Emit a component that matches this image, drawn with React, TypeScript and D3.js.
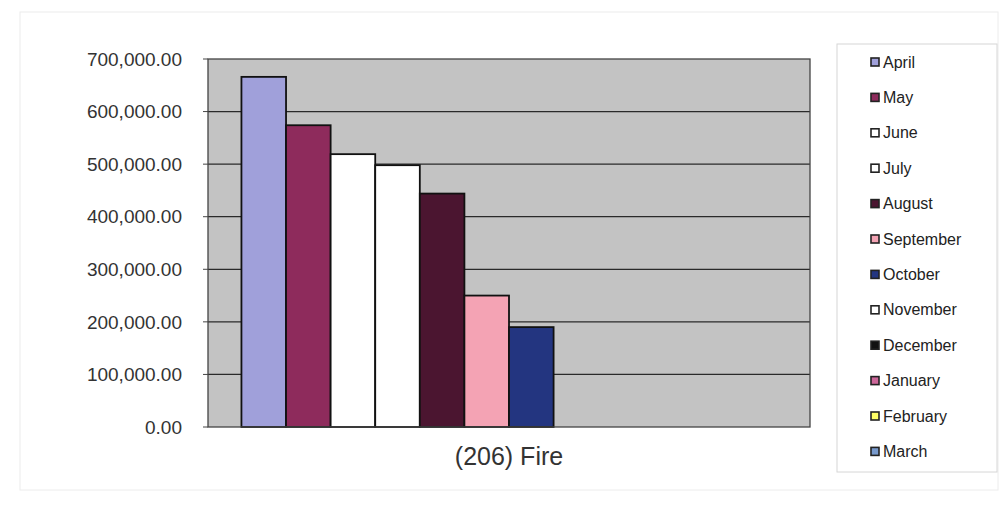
import React from "react";
import * as d3 from "d3";

const category = "(206) Fire";
const months = ["April", "May", "June", "July", "August", "September", "October", "November", "December", "January", "February", "March"];
const values = [666000, 574000, 519000, 498000, 444000, 250000, 190000, 0, 0, 0, 0, 0];
const colors = ["#A0A0DA", "#8E2B5C", "#FFFFFF", "#FFFFFF", "#4B1530", "#F4A3B4", "#233580", "#FFFFFF", "#111111", "#CC6699", "#FFFF66", "#7799CC"];
const yTicks = [0, 100000, 200000, 300000, 400000, 500000, 600000, 700000];

export default function App() {
  const W = 1002, H = 506;
  const left = 208, right = 810, top = 59, bottom = 427;
  const y = d3.scaleLinear().domain([0, 700000]).range([bottom, top]);
  const x = d3.scaleBand<string>().domain(months).range([left, right]).paddingInner(0).paddingOuter(0.75);
  const fmt = d3.format(",.2f");
  const legendTop = 62, legendStep = 35.4;
  return (
    <svg width={W} height={H} style={{ position: "absolute", left: 0, top: 0, background: "#fff" }} fontFamily="'Liberation Sans', Arial, sans-serif">
      <rect x={20} y={12} width={978} height={478} fill="#fff" stroke="#ececec" strokeWidth={1} />
      <rect x={left} y={top} width={right - left} height={bottom - top} fill="#c3c3c3" />
      {yTicks.filter(t => t > 0 && t < 700000).map(t => (
        <line key={t} x1={left} x2={right} y1={y(t)} y2={y(t)} stroke="#2a2a2a" strokeWidth={1.3} />
      ))}
      {months.map((m, i) => values[i] > 0 ? (
        <rect key={m} x={x(m)} y={y(values[i])} width={x.bandwidth()} height={bottom - y(values[i])}
          fill={colors[i]} stroke="#111" strokeWidth={1.8} />
      ) : null)}
      <rect x={left} y={top} width={right - left} height={bottom - top} fill="none" stroke="#444" strokeWidth={1.3} />
      {yTicks.map(t => (
        <g key={t}>
          <line x1={left - 5} x2={left} y1={y(t)} y2={y(t)} stroke="#444" strokeWidth={1} />
          <text x={182} y={y(t)} dy="0.35em" textAnchor="end" fontSize={19} fill="#333">{fmt(t)}</text>
        </g>
      ))}
      <text x={509} y={465} textAnchor="middle" fontSize={25} fill="#333">{category}</text>
      <rect x={837} y={44} width={160} height={428} fill="#fff" stroke="#d6d6d6" strokeWidth={1} />
      {months.map((m, i) => (
        <g key={m} transform={`translate(871, ${legendTop + i * legendStep})`}>
          <rect x={0} y={-4} width={8} height={8} fill={colors[i]} stroke="#222" strokeWidth={1.6} />
          <text x={12} y={0} dy="0.35em" fontSize={16} fill="#222">{m}</text>
        </g>
      ))}
    </svg>
  );
}
